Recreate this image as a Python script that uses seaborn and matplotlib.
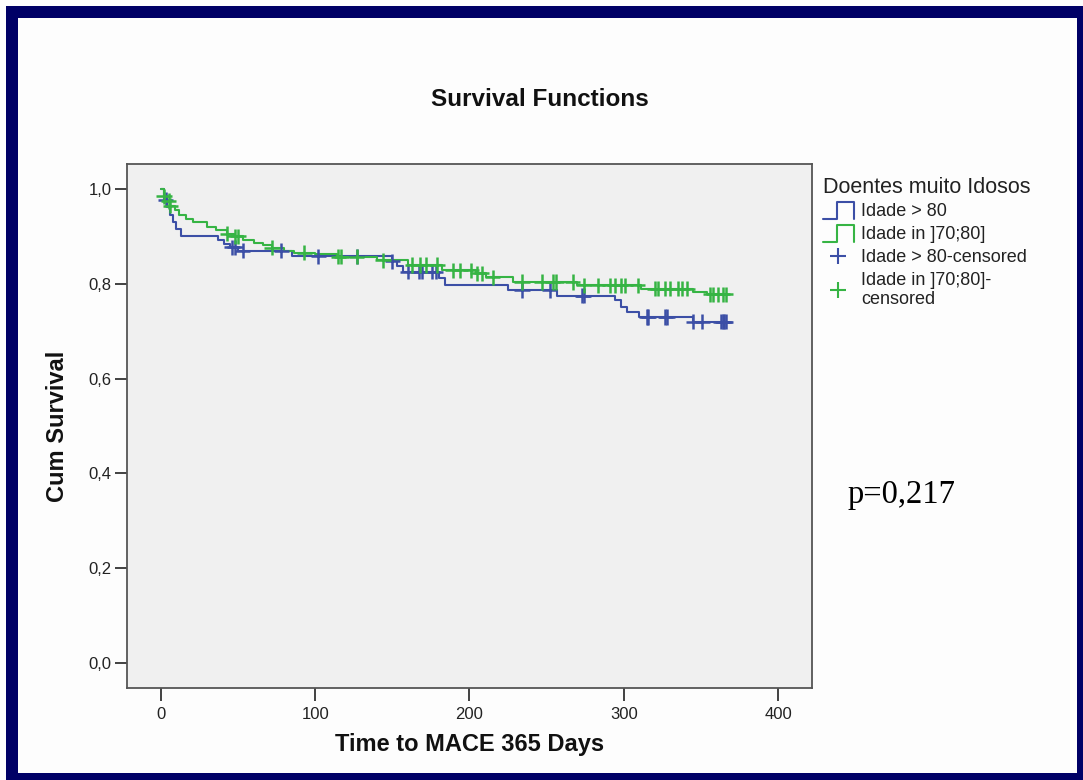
import numpy as np
import pandas as pd
import matplotlib
matplotlib.use("Agg")
import matplotlib.pyplot as plt
import seaborn as sns
from matplotlib.lines import Line2D
from matplotlib.patches import Rectangle
from matplotlib.legend_handler import HandlerBase

# ---------------- data ----------------
group_names = ["Idade > 80", "Idade in ]70;80]"]

old_times = [0, 2, 4, 6, 8, 10, 13, 37, 41, 45, 50, 85, 150, 153, 157, 180, 184,
             225, 257, 294, 298, 302, 310, 345, 367]
old_surv = [1.0, 0.978, 0.962, 0.945, 0.93, 0.915, 0.90, 0.892, 0.884, 0.877, 0.870,
            0.858, 0.848, 0.838, 0.826, 0.812, 0.797, 0.787, 0.775, 0.765, 0.752,
            0.74, 0.73, 0.72, 0.72]
old_censored = [3, 46, 48, 53, 78, 102, 127, 150, 160, 167, 169, 176, 178, 234, 252,
                273, 274, 315, 316, 327, 328, 345, 351, 363, 364, 365, 366]

mid_times = [0, 2, 4, 6, 9, 12, 16, 21, 30, 36, 43, 48, 53, 60, 66, 72, 80, 86, 100,
             114, 140, 160, 182, 204, 211, 228, 270, 311, 345, 354, 367]
mid_surv = [1.0, 0.985, 0.975, 0.965, 0.955, 0.945, 0.937, 0.93, 0.92, 0.913, 0.906,
            0.90, 0.893, 0.887, 0.882, 0.876, 0.870, 0.866, 0.862, 0.857, 0.85, 0.84,
            0.829, 0.822, 0.814, 0.804, 0.797, 0.79, 0.783, 0.778, 0.778]
mid_censored = [2, 5, 6, 43, 48, 50, 72, 93, 115, 117, 127, 144, 163, 168, 172, 179,
                189, 194, 201, 205, 208, 215, 234, 247, 254, 256, 267, 274, 283, 291,
                294, 298, 301, 309, 320, 322, 327, 330, 335, 338, 341, 356, 358, 361,
                364, 366]

x_ticks = [0, 100, 200, 300, 400]
y_ticks = [0.0, 0.2, 0.4, 0.6, 0.8, 1.0]

legend_title = "Doentes muito Idosos"
title = "Survival Functions"
x_label = "Time to MACE 365 Days"
y_label = "Cum Survival"
p_text = "p=0,217"

colors = {"Idade > 80": "#3c4fa6", "Idade in ]70;80]": "#36b444"}

# ---------------- frames ----------------
curve_df = pd.concat([
    pd.DataFrame({"time": old_times, "surv": old_surv, "group": group_names[0]}),
    pd.DataFrame({"time": mid_times, "surv": mid_surv, "group": group_names[1]}),
], ignore_index=True)


def surv_at(times, surv, t):
    idx = np.searchsorted(np.asarray(times), np.asarray(t), side="right") - 1
    return np.asarray(surv)[idx]


cens_df = pd.concat([
    pd.DataFrame({"time": old_censored,
                  "surv": surv_at(old_times, old_surv, old_censored),
                  "group": group_names[0]}),
    pd.DataFrame({"time": mid_censored,
                  "surv": surv_at(mid_times, mid_surv, mid_censored),
                  "group": group_names[1]}),
], ignore_index=True)

# ---------------- figure ----------------
sns.set_style("white")
plt.rcParams["font.family"] = ["Liberation Sans", "DejaVu Sans"]

W, H = 1083, 780
fig = plt.figure(figsize=(W / 100, H / 100), dpi=100, facecolor="#fdfdfd")


def fx(px):
    return px / W


def fy(py):
    return 1 - py / H


ax = fig.add_axes([fx(127), fy(688), fx(812) - fx(127), fy(164) - fy(688)])
ax.set_facecolor("#f0f0f0")

sns.lineplot(data=curve_df, x="time", y="surv", hue="group", palette=colors,
             estimator=None, drawstyle="steps-post", linewidth=1.5, legend=False,
             ax=ax)
sns.scatterplot(data=cens_df, x="time", y="surv", hue="group", palette=colors,
                marker="+", s=120, linewidth=1.8, legend=False, ax=ax, zorder=3)

ax.set_xlim(-22, 422)
ax.set_ylim(-0.053, 1.053)
ax.set_xticks(x_ticks)
ax.set_xticklabels([str(v) for v in x_ticks])
ax.set_yticks(y_ticks)
ax.set_yticklabels([f"{v:.1f}".replace(".", ",") for v in y_ticks])
ax.tick_params(axis="both", direction="out", length=9, width=1.3, color="#333333",
               labelsize=12, labelcolor="#222222", bottom=True, left=True)
ax.tick_params(axis="x", pad=5)
ax.tick_params(axis="y", pad=2)
ax.set_xlabel("")
ax.set_ylabel("")
for sp in ax.spines.values():
    sp.set_color("#555555")
    sp.set_linewidth(1.3)

fig.text(fx(540), fy(100), title, ha="center", va="center", fontsize=17.5,
         fontweight="bold", color="#111111")
fig.text(fx(470), fy(744), x_label, ha="center", va="center", fontsize=17,
         fontweight="bold", color="#111111")
fig.text(fx(58), fy(426), y_label, ha="center", va="center", rotation=90,
         fontsize=17, fontweight="bold", color="#111111")
fig.text(fx(848), fy(495), p_text, ha="left", va="center", fontsize=23.5,
         family=["Liberation Serif", "DejaVu Serif"], color="#000000")


# ---------------- legend ----------------
class StepHandler(HandlerBase):
    def create_artists(self, legend, orig_handle, xdescent, ydescent, width,
                       height, fontsize, trans):
        x0, y0 = -xdescent, -ydescent - 2
        h = height + 3
        xs = [x0, x0 + 0.45 * width, x0 + 0.45 * width, x0 + width, x0 + width]
        ys = [y0, y0, y0 + h, y0 + h, y0]
        return [Line2D(xs, ys, color=orig_handle.get_color(), lw=1.5,
                       transform=trans)]


h_old = Line2D([], [], color=colors[group_names[0]])
h_mid = Line2D([], [], color=colors[group_names[1]])
c_old = Line2D([], [], color=colors[group_names[0]], marker="+", ls="none",
               markersize=12, markeredgewidth=1.5)
c_mid = Line2D([], [], color=colors[group_names[1]], marker="+", ls="none",
               markersize=12, markeredgewidth=1.5)
labels = [group_names[0], group_names[1], group_names[0] + "-censored",
          group_names[1] + "-\ncensored"]
leg = fig.legend([h_old, h_mid, c_old, c_mid], labels,
                 handler_map={h_old: StepHandler(), h_mid: StepHandler()},
                 loc="upper left", bbox_to_anchor=(fx(810), fy(164)),
                 frameon=False, fontsize=13, title=legend_title,
                 title_fontsize=15.5, alignment="left", handlelength=1.75,
                 handletextpad=0.4, labelspacing=0.32, borderpad=0.2)
for t in leg.get_texts():
    t.set_color("#222222")
leg.get_title().set_color("#222222")

# ---------------- border ----------------
navy = "#000066"
for (x0, y0, x1, y1) in [(6, 6, 1083, 18), (6, 6, 18, 780), (1077, 6, 1083, 780),
                         (6, 773, 1083, 780)]:
    fig.add_artist(Rectangle((fx(x0), fy(y1)), fx(x1) - fx(x0), fy(y0) - fy(y1),
                             transform=fig.transFigure, facecolor=navy,
                             edgecolor="none"))

fig.savefig("out.png", dpi=100, facecolor=fig.get_facecolor())
